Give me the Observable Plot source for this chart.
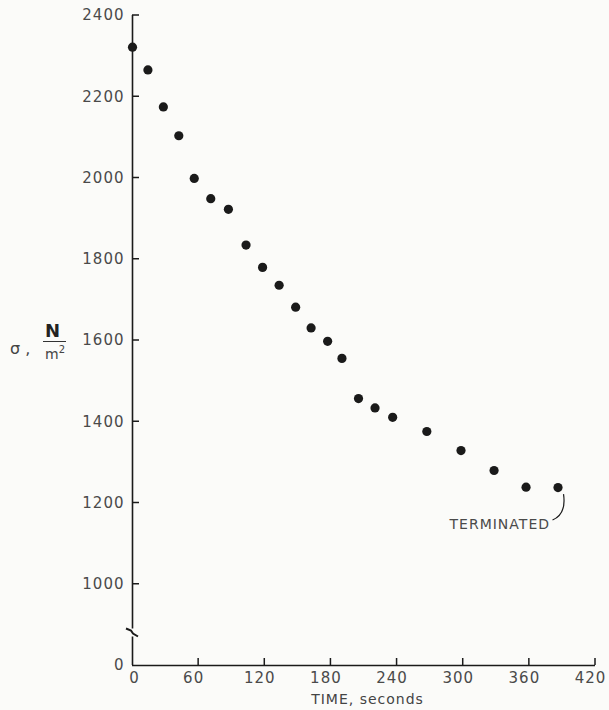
<!DOCTYPE html>
<html><head><meta charset="utf-8">
<script src="https://cdn.jsdelivr.net/npm/d3@7"></script>
<script src="https://cdn.jsdelivr.net/npm/@observablehq/plot@0.6"></script>
<style>
html,body{margin:0;padding:0;background:#fbfbf9;}
#wrap{position:relative;width:609px;height:710px;}
.lab{position:absolute;font-family:"DejaVu Sans",sans-serif;color:#444;line-height:1;white-space:nowrap;}
</style></head><body><div id="wrap"></div>
<script>
// Data
const time  = [0, 14, 28, 42, 56, 71, 87, 103, 118, 133, 148, 162, 177, 190, 205, 220, 236, 267, 298, 328, 357, 386];
const sigma = [2322, 2266, 2175, 2104, 1999, 1949, 1923, 1835, 1780, 1736, 1682, 1631, 1598, 1556, 1457, 1434, 1411, 1376, 1329, 1280, 1239, 1238];
const xTicks = [0, 60, 120, 180, 240, 300, 360, 420];
const yTicks = [800, 1000, 1200, 1400, 1600, 1800, 2000, 2200, 2400];
const yTickLabels = ["0", "1000", "1200", "1400", "1600", "1800", "2000", "2200", "2400"];
const xLabel = "TIME, seconds";
const noteText = "TERMINATED";
const breakAt = 880;

const data = time.map((t, i) => ({t, s: sigma[i]}));
const last = data[data.length - 1];
const ink = "#1a1a1a";
const txt = "#4a4a4a";
const bg = "#fbfbf9";

// inward ticks on both axes
function inwardTicks(index, {x, y}) {
  const g = d3.create("svg:g").attr("stroke", ink).attr("stroke-width", 1.5);
  const x0 = x(0), y0 = y(800);
  for (const v of yTicks.slice(1)) g.append("line").attr("x1", x0).attr("x2", x0 + 7).attr("y1", y(v)).attr("y2", y(v));
  for (const v of xTicks.slice(1)) g.append("line").attr("x1", x(v)).attr("x2", x(v)).attr("y1", y0).attr("y2", y0 - 7);
  return g.node();
}

function axisBreak(index, {x, y}) {
  const cx = x(0), cy = y(breakAt);
  const g = d3.create("svg:g");
  g.append("rect").attr("x", cx - 3).attr("y", cy - 4).attr("width", 6).attr("height", 8).attr("fill", bg);
  g.append("path")
    .attr("d", `M${cx - 6},${cy - 4} L${cx - 1},${cy - 2} L${cx + 1},${cy + 1} L${cx + 6},${cy + 4}`)
    .attr("fill", "none").attr("stroke", ink).attr("stroke-width", 2);
  return g.node();
}

function noteCurve(index, {x, y}) {
  const px = x(last.t), py = y(last.s);
  const g = d3.create("svg:g");
  g.append("path")
    .attr("d", `M${px - 5},${py + 33} Q${px + 9},${py + 27} ${px + 6},${py + 7}`)
    .attr("fill", "none").attr("stroke", ink).attr("stroke-width", 1.2);
  return g.node();
}

const chart = Plot.plot({
  width: 609,
  height: 710,
  marginLeft: 132,
  marginRight: 14,
  marginTop: 15,
  marginBottom: 45,
  style: {background: "transparent", fontFamily: "DejaVu Sans, sans-serif", fontSize: "15px", color: txt},
  x: {domain: [0, 420]},
  y: {domain: [800, 2400]},
  marks: [
    Plot.ruleX([0], {stroke: ink, strokeWidth: 1.6}),
    Plot.ruleY([800], {stroke: ink, strokeWidth: 1.6}),
    Plot.axisY({ticks: yTicks, tickSize: 0, tickPadding: 8, tickFormat: (d) => yTickLabels[yTicks.indexOf(d)], fill: txt, fontSize: 15, label: null}),
    Plot.axisX({ticks: xTicks.filter(d => d > 0), tickSize: 0, tickPadding: 7, fill: txt, fontSize: 15, label: null, dx: -5}),
    Plot.axisX({ticks: [0], tickSize: 0, tickPadding: 7, fill: txt, fontSize: 15, label: null, dx: 2}),
    inwardTicks,
    axisBreak,
    Plot.dot(data, {x: "t", y: "s", r: 4.6, fill: ink, stroke: "none"}),
    Plot.text([last], {x: "t", y: "s", text: () => noteText, dx: -8, dy: 37, textAnchor: "end", fill: txt, fontSize: 14}),
    noteCurve
  ]
});
chart.querySelectorAll("text").forEach(t => t.style.letterSpacing = "1px");
const wrap = document.getElementById("wrap");
wrap.appendChild(chart);

const mk = (html, css) => { const d = document.createElement("div"); d.className = "lab"; d.innerHTML = html; Object.assign(d.style, css); wrap.appendChild(d); return d; };
// x-axis title
mk(xLabel, {left: "305px", top: "692px", width: "125px", textAlign: "center", fontSize: "14px", letterSpacing: "1px"});
// y-axis label: sigma, N / m^2
mk("σ ,", {left: "10px", top: "341px", fontSize: "16px"});
mk("<b>N</b>", {left: "45px", top: "322px", fontSize: "18px", color: "#222"});
mk("", {left: "43px", top: "341px", width: "23px", height: "0", borderTop: "1.5px solid #333"});
mk("m<sup style='font-size:10px'>2</sup>", {left: "45px", top: "345px", fontSize: "14px"});
</script></body></html>
